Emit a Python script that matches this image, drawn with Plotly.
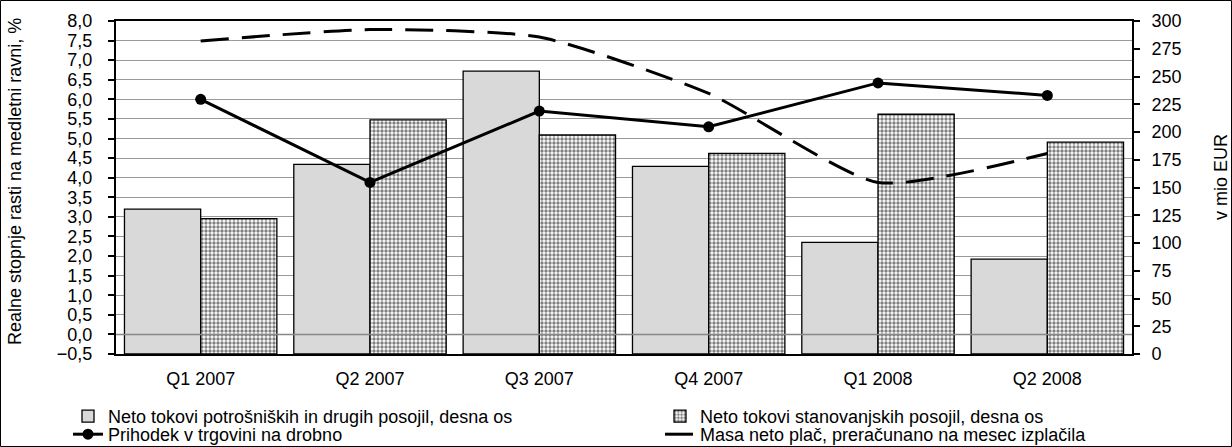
import plotly.graph_objects as go

categories = ["Q1 2007", "Q2 2007", "Q3 2007", "Q4 2007", "Q1 2008", "Q2 2008"]
consumer_loans = [130.6, 170.9, 254.8, 169.0, 100.5, 85.4]      # right axis, mio EUR
housing_loans = [122.0, 211.0, 197.3, 180.7, 216.0, 190.8]      # right axis, mio EUR
retail_revenue = [6.0, 3.88, 5.70, 5.30, 6.42, 6.10]             # left axis, %
net_wages = [7.49, 7.78, 7.59, 6.15, 3.88, 4.62]                 # left axis, %

left_ticks = [i * 0.5 for i in range(-1, 17)]
right_ticks = list(range(0, 301, 25))

W, H = 1232, 447
ML, MR, MT, MB = 116, 100, 21, 93
PW, PH = W - ML - MR, H - MT - MB

def px_x(p):
    return (p - ML) / PW

def px_y(p):
    return (H - MB - p) / PH

FONT = "Liberation Sans, Arial, sans-serif"
FS = 18

fig = go.Figure()
fig.add_trace(go.Bar(
    x=categories, y=consumer_loans, name="Neto tokovi potrošniških in drugih posojil, desna os",
    marker=dict(color="#d9d9d9", line=dict(color="black", width=1.3)),
    yaxis="y", legend="legend",
))
fig.add_trace(go.Bar(
    x=categories, y=housing_loans, name="Neto tokovi stanovanjskih posojil, desna os",
    marker=dict(color="white", line=dict(color="black", width=1.3),
                pattern=dict(shape=".", fgcolor="black", bgcolor="white", size=4, solidity=0.55)),
    yaxis="y", legend="legend2",
))
fig.add_trace(go.Scatter(
    x=categories, y=retail_revenue, name="Prihodek v trgovini na drobno",
    mode="lines+markers", line=dict(color="black", width=3),
    marker=dict(color="black", size=11), yaxis="y2", legend="legend3",
))
fig.add_trace(go.Scatter(
    x=categories, y=net_wages, name="Masa neto plač, preračunano na mesec izplačila",
    mode="lines", line=dict(color="black", width=3, dash="28px,13px", shape="spline", smoothing=0.6),
    yaxis="y2", legend="legend4",
))

legend_common = dict(
    orientation="v", yanchor="top", xanchor="left", traceorder="normal",
    font=dict(family=FONT, size=FS), bgcolor="rgba(0,0,0,0)", tracegroupgap=0,
)
COL1_X, COL2_X = 68, 660
ROW1_Y, ROW2_Y = 398, 416

fig.update_layout(
    width=W, height=H,
    margin=dict(l=ML, r=MR, t=MT, b=MB, autoexpand=False),
    paper_bgcolor="white", plot_bgcolor="white",
    font=dict(family=FONT, size=FS, color="black"),
    separators=", ",
    barmode="group", bargap=0.1, bargroupgap=0,
    showlegend=True,
    legend=dict(x=px_x(COL1_X), y=px_y(ROW1_Y), **legend_common),
    legend2=dict(x=px_x(COL2_X), y=px_y(ROW1_Y), **legend_common),
    legend3=dict(x=px_x(COL1_X), y=px_y(ROW2_Y), **legend_common),
    legend4=dict(x=px_x(COL2_X), y=px_y(ROW2_Y), **legend_common),
    xaxis=dict(
        type="category", showline=True, linecolor="black", linewidth=1.5, mirror=True,
        ticks="", showgrid=False, tickfont=dict(size=FS), ticklabelstandoff=8,
    ),
    yaxis=dict(
        side="right", range=[0, 300], tickvals=right_ticks, showgrid=False, zeroline=False,
        showline=True, linecolor="black", linewidth=2, ticks="outside", ticklen=6,
        tickcolor="black", tickwidth=1.5, tickfont=dict(size=FS), ticklabelstandoff=8,
    ),
    yaxis2=dict(
        overlaying="y", side="left", range=[-0.5, 8.0], tickvals=left_ticks, tickformat=".1f",
        showgrid=True, gridcolor="#999999", gridwidth=1.3, zeroline=False,
        showline=True, linecolor="black", linewidth=2, ticks="outside", ticklen=6,
        tickcolor="black", tickwidth=1.5, tickfont=dict(size=FS), ticklabelstandoff=12,
    ),
    shapes=[
        dict(type="line", xref="paper", yref="y2", x0=0, x1=1, y0=0, y1=0,
             line=dict(color="#888888", width=1.5), layer="above"),
        dict(type="rect", xref="paper", yref="paper",
             x0=px_x(0.5), x1=px_x(W - 0.5), y0=px_y(H - 0.5), y1=px_y(0.5),
             line=dict(color="black", width=1), layer="below"),
    ],
    annotations=[
        dict(text="Realne stopnje rasti na medletni ravni, %", xref="paper", yref="paper",
             x=px_x(15), y=px_y(182), textangle=-90, showarrow=False,
             xanchor="center", yanchor="middle", font=dict(size=FS)),
        dict(text="v mio EUR", xref="paper", yref="paper",
             x=px_x(1221), y=px_y(177), textangle=-90, showarrow=False,
             xanchor="center", yanchor="middle", font=dict(size=FS)),
    ],
)

fig.write_html(
    "out.html",
    config={"displayModeBar": False},
    post_script="document.body.style.margin='0';document.body.style.overflow='hidden';",
)
